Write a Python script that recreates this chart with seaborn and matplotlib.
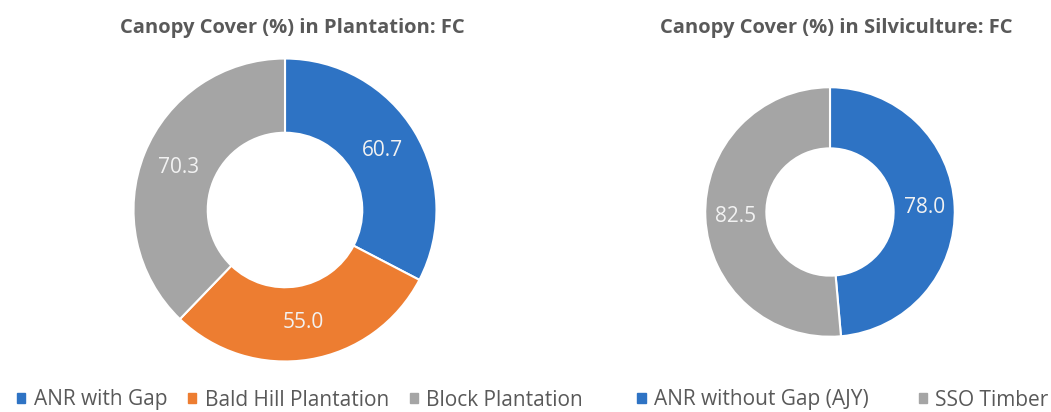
import math
import matplotlib
matplotlib.use("Agg")
import matplotlib.pyplot as plt
import matplotlib.patches as mpatches
import seaborn as sns

# Data
plantation_labels = ["ANR with Gap", "Bald Hill Plantation", "Block Plantation"]
plantation_values = [60.7, 55.0, 70.3]

silviculture_labels = ["ANR without Gap (AJY)", "SSO Timber"]
silviculture_values = [78.0, 82.5]

sns.set_theme(style="white")
plt.rcParams["font.family"] = ["Open Sans", "DejaVu Sans"]

BLUE = "#2E73C4"
ORANGE = "#ED7D31"
GRAY = "#A5A5A5"
TEXT = "#595959"

W, H = 1051, 412
fig = plt.figure(figsize=(W / 100, H / 100), dpi=100)


def donut_axes(cx, cy, r):
    # cx, cy in pixels from top-left, r in pixels
    return fig.add_axes([(cx - r) / W, (H - cy - r) / H, 2 * r / W, 2 * r / H])


def draw_donut(ax, values, colors):
    ring = 0.49
    ax.pie(values, colors=colors, startangle=90, counterclock=False,
           wedgeprops=dict(width=ring, edgecolor="white", linewidth=1.5))
    total = sum(values)
    start = 90.0
    for v in values:
        ang = start - 180.0 * v / total
        start -= 360.0 * v / total
        rad = 1 - ring / 2
        ax.text(rad * math.cos(math.radians(ang)), rad * math.sin(math.radians(ang)),
                f"{v:.1f}", ha="center", va="center", color="#F2F2F2", fontsize=15)
    ax.set_xlim(-1.01, 1.01)
    ax.set_ylim(-1.01, 1.01)
    ax.set_aspect("equal")
    ax.axis("off")


ax1 = donut_axes(285, 210, 153)
draw_donut(ax1, plantation_values, [BLUE, ORANGE, GRAY])

ax2 = donut_axes(830, 212, 126)
draw_donut(ax2, silviculture_values, [BLUE, GRAY])

fig.text(292 / W, 1 - 28 / H, "Canopy Cover (%) in Plantation: FC", ha="center", va="center",
         fontsize=14.5, fontweight="bold", color=TEXT)
fig.text(836 / W, 1 - 28 / H, "Canopy Cover (%) in Silviculture: FC", ha="center", va="center",
         fontsize=14.5, fontweight="bold", color=TEXT)

h1 = [mpatches.Patch(color=c) for c in [BLUE, ORANGE, GRAY]]
fig.legend(h1, plantation_labels, loc="center", bbox_to_anchor=(300 / W, 1 - 400 / H),
           ncol=3, frameon=False, fontsize=15, labelcolor=TEXT,
           handlelength=0.4, handleheight=0.4, handletextpad=0.4, columnspacing=1.0)
h2 = [mpatches.Patch(color=c) for c in [BLUE, GRAY]]
fig.legend(h2, silviculture_labels, loc="center", bbox_to_anchor=(843 / W, 1 - 400 / H),
           ncol=2, frameon=False, fontsize=15, labelcolor=TEXT,
           handlelength=0.4, handleheight=0.4, handletextpad=0.4, columnspacing=2.4)

fig.savefig("out.png", dpi=100, facecolor="white")
